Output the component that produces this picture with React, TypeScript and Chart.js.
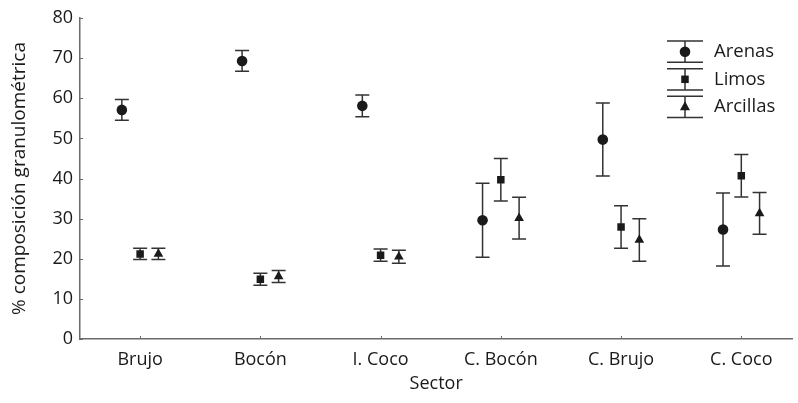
import React, { useEffect, useRef } from "react";
import { Chart, registerables } from "chart.js";

Chart.register(...registerables);

const categories = ["Brujo", "Bocón", "I. Coco", "C. Bocón", "C. Brujo", "C. Coco"];
const seriesNames = ["Arenas", "Limos", "Arcillas"];
const arenas = [57.1, 69.3, 58.1, 29.6, 49.7, 27.3];
const arenasErr = [2.6, 2.6, 2.7, 9.2, 9.1, 9.1];
const limos = [21.2, 14.9, 20.9, 39.7, 27.9, 40.7];
const limosErr = [1.4, 1.5, 1.5, 5.3, 5.3, 5.3];
const arcillas = [21.2, 15.6, 20.5, 30.1, 24.7, 31.3];
const arcillasErr = [1.4, 1.5, 1.6, 5.2, 5.3, 5.2];
const yTicks = [0, 10, 20, 30, 40, 50, 60, 70, 80];

const FONT = "'Open Sans', 'Noto Sans', sans-serif";
const INK = "#1a1a1a";
const AXIS = "#6b6b6b";
const offsets = [-0.152, 0, 0.152];
const pointStyles = ["circle", "rect", "triangle"] as const;
const pointRadii = [5.3, 5.3, 5.6];
const values = [arenas, limos, arcillas];
const errors = [arenasErr, limosErr, arcillasErr];

function drawMarker(ctx: CanvasRenderingContext2D, style: string, x: number, y: number, r: number) {
  ctx.save();
  ctx.fillStyle = INK;
  ctx.beginPath();
  if (style === "circle") {
    ctx.arc(x, y, r, 0, Math.PI * 2);
  } else if (style === "rect") {
    const h = r * Math.SQRT1_2;
    ctx.rect(x - h, y - h, h * 2, h * 2);
  } else {
    ctx.moveTo(x, y - r);
    ctx.lineTo(x + r * 0.9, y + r * 0.6);
    ctx.lineTo(x - r * 0.9, y + r * 0.6);
    ctx.closePath();
  }
  ctx.fill();
  ctx.restore();
}

const errorBarPlugin = {
  id: "errorBars",
  beforeDatasetsDraw(chart: any) {
    const ctx = chart.ctx as CanvasRenderingContext2D;
    const xs = chart.scales.x;
    const ys = chart.scales.y;
    ctx.save();
    ctx.strokeStyle = "#333333";
    ctx.lineWidth = 1.5;
    values.forEach((vals, i) => {
      vals.forEach((v, j) => {
        const x = xs.getPixelForValue(j + offsets[i]);
        const yt = ys.getPixelForValue(v + errors[i][j]);
        const yb = ys.getPixelForValue(v - errors[i][j]);
        ctx.beginPath();
        ctx.moveTo(x, yt);
        ctx.lineTo(x, yb);
        ctx.moveTo(x - 7, yt);
        ctx.lineTo(x + 7, yt);
        ctx.moveTo(x - 7, yb);
        ctx.lineTo(x + 7, yb);
        ctx.stroke();
      });
    });
    ctx.restore();
  },
  afterDraw(chart: any) {
    const ctx = chart.ctx as CanvasRenderingContext2D;
    const xs = chart.scales.x;
    const ys = chart.scales.y;
    const area = chart.chartArea;
    ctx.save();
    ctx.strokeStyle = AXIS;
    ctx.lineWidth = 1;
    categories.forEach((_, j) => {
      const x = Math.round(xs.getPixelForValue(j)) + 0.5;
      ctx.beginPath();
      ctx.moveTo(x, area.bottom);
      ctx.lineTo(x, area.bottom - 3);
      ctx.stroke();
    });
    yTicks.forEach((t) => {
      const y = Math.round(ys.getPixelForValue(t)) + 0.5;
      ctx.beginPath();
      ctx.moveTo(area.left, y);
      ctx.lineTo(area.left + 3, y);
      ctx.stroke();
    });
    const lx0 = 667;
    const lx1 = 703;
    const lxc = 685;
    const centers = [51.7, 79.3, 106.8];
    ctx.strokeStyle = "#333333";
    ctx.lineWidth = 1.5;
    ctx.fillStyle = INK;
    ctx.font = `18.5px ${FONT}`;
    ctx.textBaseline = "middle";
    ctx.textAlign = "left";
    seriesNames.forEach((name, i) => {
      const cy = centers[i];
      ctx.beginPath();
      ctx.moveTo(lx0, cy - 10.6);
      ctx.lineTo(lx1, cy - 10.6);
      ctx.moveTo(lx0, cy + 10.6);
      ctx.lineTo(lx1, cy + 10.6);
      ctx.moveTo(lxc, cy - 10.6);
      ctx.lineTo(lxc, cy + 10.6);
      ctx.stroke();
      drawMarker(ctx, pointStyles[i], lxc, cy, pointRadii[i]);
      ctx.fillStyle = INK;
      ctx.fillText(name, 714, cy);
    });
    ctx.restore();
  },
};

export default function App() {
  const ref = useRef<HTMLCanvasElement | null>(null);
  useEffect(() => {
    if (!ref.current) return;
    const datasets = values.map((vals, i) => ({
      label: seriesNames[i],
      data: vals.map((v, j) => ({ x: j + offsets[i], y: v })),
      pointStyle: pointStyles[i],
      pointRadius: pointRadii[i],
      pointBackgroundColor: INK,
      pointBorderColor: INK,
      pointBorderWidth: 0,
      showLine: false,
    }));
    const chart = new Chart(ref.current, {
      type: "scatter",
      data: { datasets },
      plugins: [errorBarPlugin],
      options: {
        animation: false,
        responsive: false,
        maintainAspectRatio: false,
        layout: { padding: { top: 18, right: 0, left: 0, bottom: 0 } },
        plugins: { legend: { display: false }, tooltip: { enabled: false } },
        scales: {
          x: {
            type: "linear",
            min: -0.5,
            max: 5.425,
            afterBuildTicks(scale: any) {
              scale.ticks = categories.map((_, j) => ({ value: j }));
            },
            afterFit(scale: any) {
              scale.height = 64;
            },
            grid: { display: false, drawTicks: false },
            border: { display: true, color: AXIS, width: 1.5 },
            ticks: {
              autoSkip: false,
              maxRotation: 0,
              padding: 10,
              color: INK,
              font: { family: FONT, size: 18 },
              callback: (v: any) => categories[Math.round(Number(v))] ?? "",
            },
            title: {
              display: true,
              text: "Sector",
              color: INK,
              font: { family: FONT, size: 18 },
              padding: { top: 0, bottom: 8 },
            },
          },
          y: {
            min: 0,
            max: 80,
            afterBuildTicks(scale: any) {
              scale.ticks = yTicks.map((t) => ({ value: t }));
            },
            afterFit(scale: any) {
              scale.width = 80;
            },
            grid: { display: false, drawTicks: false },
            border: { display: true, color: AXIS, width: 1.5 },
            ticks: {
              padding: 7,
              color: INK,
              font: { family: FONT, size: 18 },
            },
            title: {
              display: true,
              text: "% composición granulométrica",
              color: INK,
              font: { family: FONT, size: 19 },
              padding: { top: 8, bottom: 0 },
            },
          },
        },
      },
    });
    return () => chart.destroy();
  }, []);
  return (
    <div style={{ position: "absolute", left: 0, top: 0, width: 798, height: 403, background: "#fff" }}>
      <canvas ref={ref} width={798} height={403} style={{ width: 798, height: 403 }} />
    </div>
  );
}
